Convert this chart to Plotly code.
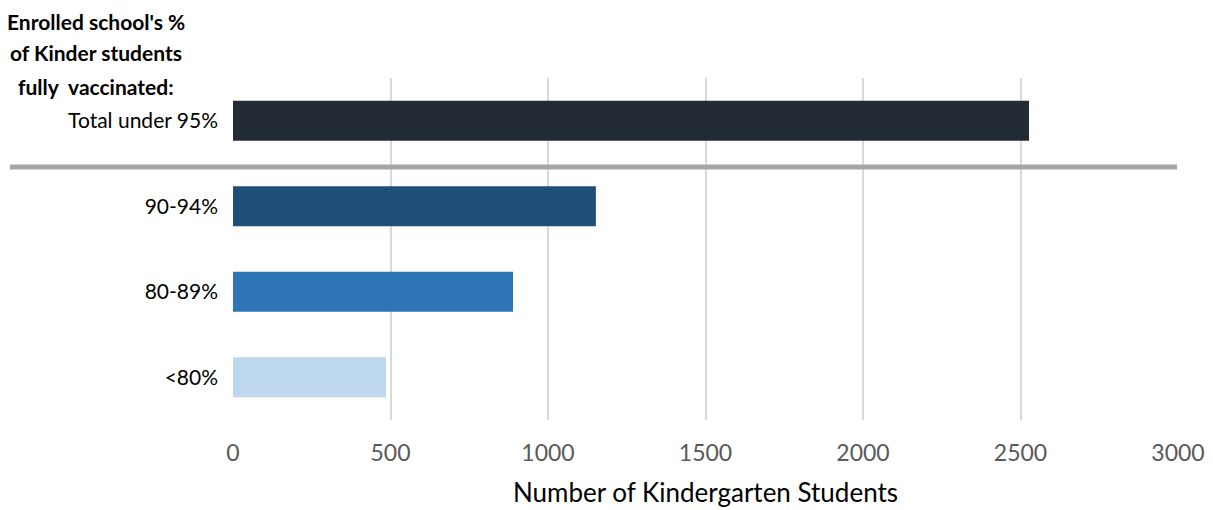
import plotly.graph_objects as go

categories = ["Total under 95%", "90-94%", "80-89%", "<80%"]
students = [2527, 1152, 889, 486]
bar_colors = ["#222a35", "#1f4e79", "#2e75b6", "#bdd7ee"]
x_ticks = [0, 500, 1000, 1500, 2000, 2500, 3000]
header_lines = ["Enrolled school's %", "of Kinder students", "fully  vaccinated:"]

FONT = "Lato, Calibri, sans-serif"

fig = go.Figure(
    go.Bar(
        x=students,
        y=categories,
        orientation="h",
        marker=dict(color=bar_colors, line=dict(width=0)),
        width=0.47,
        hoverinfo="x+y",
    )
)

fig.update_layout(
    width=1213,
    height=510,
    paper_bgcolor="white",
    plot_bgcolor="white",
    margin=dict(l=225, r=43, t=70, b=98),
    font=dict(family=FONT, color="#000000"),
    showlegend=False,
)

fig.update_xaxes(
    range=[0, 3000],
    tickvals=x_ticks,
    showgrid=True,
    gridcolor="#d9d9d9",
    gridwidth=1.5,
    zeroline=False,
    showline=False,
    tickfont=dict(size=23, color="#595959"),
    ticklabelstandoff=17,
    title=dict(text="Number of Kindergarten Students", font=dict(size=26, color="#000000"), standoff=18),
    fixedrange=True,
)
fig.update_yaxes(
    categoryorder="array",
    categoryarray=categories[::-1],
    showgrid=False,
    zeroline=False,
    showline=False,
    tickfont=dict(size=21, color="#000000"),
    ticklabelstandoff=14,
    fixedrange=True,
)

# separator between the total and the breakdown
fig.add_shape(
    type="line",
    xref="paper", yref="y",
    x0=-0.236, x1=0.999,
    y0=2.46, y1=2.46,
    line=dict(color="#a6a6a6", width=5),
)

# header above the category labels, one line at a time for Excel-like spacing
for line, ypos in zip(header_lines, [1.164, 1.076, 0.974]):
    fig.add_annotation(
        xref="paper", yref="paper",
        x=-0.145, y=ypos,
        xanchor="center", yanchor="middle",
        showarrow=False,
        text=f"<b>{line}</b>",
        font=dict(size=21, color="#000000", family=FONT),
    )

fig.write_html("out.html")
